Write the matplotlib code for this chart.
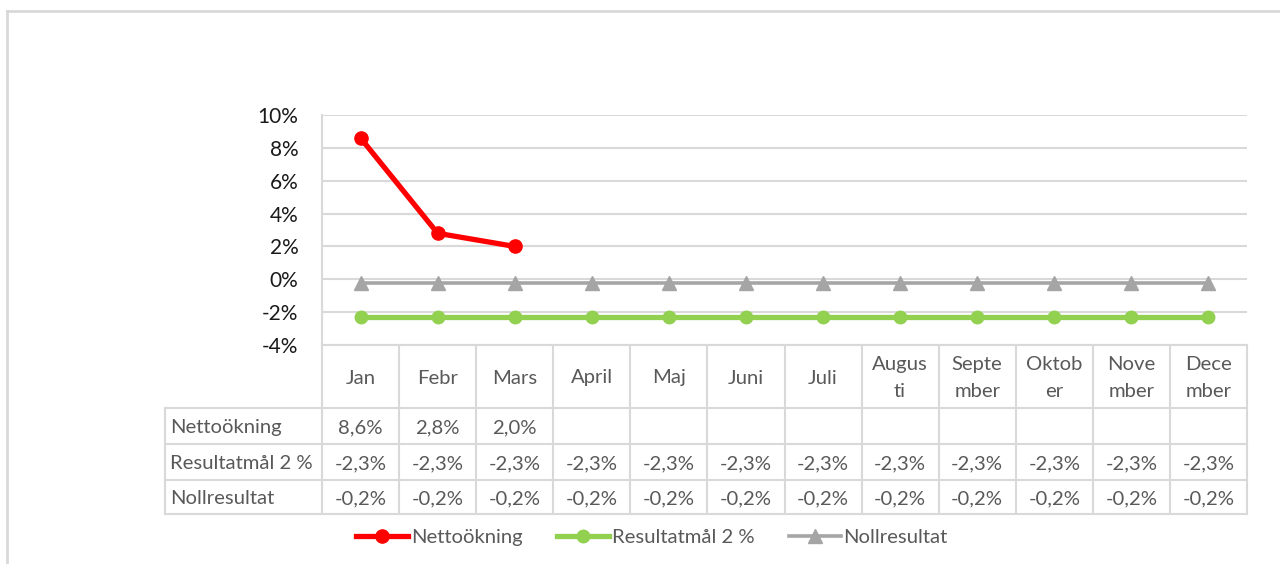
import numpy as np
import matplotlib
matplotlib.use("Agg")
import matplotlib.pyplot as plt
from matplotlib.lines import Line2D
from matplotlib.transforms import blended_transform_factory

# ---------------- data ----------------
months = ["Jan", "Febr", "Mars", "April", "Maj", "Juni", "Juli",
          "Augus\nti", "Septe\nmber", "Oktob\ner", "Nove\nmber", "Dece\nmber"]
netto = [0.086, 0.028, 0.020, np.nan, np.nan, np.nan, np.nan, np.nan,
         np.nan, np.nan, np.nan, np.nan]
resultatmal = [-0.023] * 12
nollresultat = [-0.002] * 12
series_names = ["Nettoökning", "Resultatmål 2 %", "Nollresultat"]
yticks = [-0.04, -0.02, 0.0, 0.02, 0.04, 0.06, 0.08, 0.10]

# ---------------- styling ----------------
W, H = 1280, 564
FONT = ["Lato", "DejaVu Sans"]
plt.rcParams["font.family"] = FONT
GRID = "#d9d9d9"
TXT = "#595959"
RED, GREEN, GRAY = "#ff0000", "#92d050", "#a5a5a5"

fig = plt.figure(figsize=(W / 100, H / 100), dpi=100)
fig.patch.set_facecolor("white")

def fx(px):
    return px / W

def fy(py):
    return 1 - py / H

# plot area
L, R, T, B = 322, 1247, 115, 345
ax = fig.add_axes([fx(L), fy(B), fx(R) - fx(L), fy(T) - fy(B)])
x = np.arange(len(months))
ax.set_xlim(-0.5, len(months) - 0.5)
ax.set_ylim(-0.04, 0.10)
ax.set_yticks(yticks)
ax.set_yticklabels([f"{int(round(v*100))}%" for v in yticks], fontsize=15, color="#1a1a1a")
ax.tick_params(axis="y", length=0, pad=17)
ax.set_xticks([])
for s in ["top", "right", "bottom"]:
    ax.spines[s].set_visible(False)
ax.spines["left"].set_color(GRID)
ax.spines["left"].set_linewidth(1.5)
ax.grid(axis="y", color=GRID, linewidth=1.5)
ax.set_axisbelow(True)

l1, = ax.plot(x, netto, color=RED, lw=3.8, marker="o", ms=9.5, zorder=5)
l2, = ax.plot(x, resultatmal, color=GREEN, lw=3.8, marker="o", ms=9, zorder=4)
l3, = ax.plot(x, nollresultat, color=GRAY, lw=2.6, marker="^", ms=10, zorder=3)

# ---------------- data table ----------------
tr = blended_transform_factory(ax.transData, fig.transFigure)
rows_y = [345, 408, 444, 480, 514]
left_col = 165
lw_t = 1.5
fig.add_artist(Line2D([fx(L), fx(R)], [fy(rows_y[0])] * 2, color=GRID, lw=lw_t))
for yy in rows_y[1:]:
    fig.add_artist(Line2D([fx(left_col), fx(R)], [fy(yy)] * 2, color=GRID, lw=lw_t))
for i in range(len(months) + 1):
    ax.add_line(Line2D([i - 0.5, i - 0.5], [fy(rows_y[0]), fy(rows_y[-1])],
                       transform=tr, color=GRID, lw=lw_t, clip_on=False))
fig.add_artist(Line2D([fx(left_col)] * 2, [fy(rows_y[1]), fy(rows_y[-1])], color=GRID, lw=lw_t))

TFS = 14.6
hdr_y = (rows_y[0] + rows_y[1]) / 2 + 1.5
for i, m in enumerate(months):
    ax.text(i, fy(hdr_y), m, transform=tr, ha="center", va="center",
            fontsize=TFS, color=TXT, linespacing=1.65, clip_on=False)

def fmt(v):
    if np.isnan(v):
        return ""
    return f"{v*100:.1f}%".replace(".", ",")

for r, (name, vals) in enumerate(zip(series_names, [netto, resultatmal, nollresultat])):
    cy = (rows_y[r + 1] + rows_y[r + 2]) / 2 + 1.5
    fig.text(fx(left_col + 5), fy(cy), name, ha="left", va="center", fontsize=TFS, color=TXT)
    for i, v in enumerate(vals):
        ax.text(i, fy(cy), fmt(v), transform=tr, ha="center", va="center",
                fontsize=TFS, color=TXT, clip_on=False)

# ---------------- legend ----------------
leg = fig.legend([l1, l2, l3], series_names, loc="center", bbox_to_anchor=(fx(652), fy(537)),
                 ncol=3, frameon=False, fontsize=TFS, handlelength=2.55, handletextpad=0.15,
                 columnspacing=1.7, labelcolor=TXT)

# ---------------- outer frame ----------------
fig.add_artist(Line2D([fx(7), 1], [fy(11)] * 2, color=GRID, lw=2))
fig.add_artist(Line2D([fx(7)] * 2, [fy(11), 0], color=GRID, lw=2))

fig.savefig("out.png", dpi=100)
